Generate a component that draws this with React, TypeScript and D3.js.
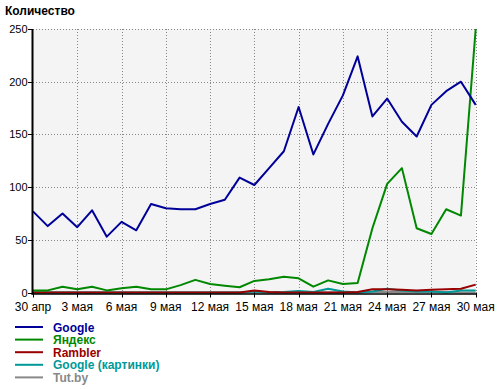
import React from "react";
import * as d3 from "d3";

const dayCount = 31;
const tickLabels = ["30 апр", "3 мая", "6 мая", "9 мая", "12 мая", "15 мая", "18 мая", "21 мая", "24 мая", "27 мая", "30 мая"];
const yTicks = [0, 50, 100, 150, 200, 250];

const google = [77, 63, 75, 62, 78, 53, 67, 59, 84, 80, 79, 79, 84, 88, 109, 102, 118, 134, 176, 131, 160, 187, 224, 167, 184, 162, 148, 178, 191, 200, 178];
const yandex = [2, 2, 5.5, 3, 5.5, 2, 4, 5.5, 3, 3, 7, 12, 8, 6.5, 5, 11, 12.5, 15, 13.5, 5.5, 11.5, 8, 9, 61, 103, 118, 61, 55.5, 79, 73, 250];
const rambler = [0, 0, 0, 0, 0, 0, 0, 0, 0, 0, 0, 0, 0, 0, 0, 2, 0.5, 0, 0, 0, 0, 0, 0.5, 3, 3, 2.5, 2, 2.5, 3, 3.5, 7.5];
const googleImages = [0, 0, 0, 0, 0, 0, 0, 0, 0, 0, 0, 0, 0, 0, 0, 1, 0, 0.5, 1.5, 0.5, 3.5, 1, 0, 1, 3.5, 2, 1, 1, 0, 2, 2];
const tutby = [0, 0, 0, 0, 0, 0, 0, 0, 0, 0, 0, 0, 0, 0, 0, 0, 0, 0, 0, 0, 0, 0, 0, 0.5, 0.5, 0.5, 0.5, 0.5, 0.5, 0, 0];

const seriesNames = ["Google", "Яндекс", "Rambler", "Google (картинки)", "Tut.by"];
const seriesColors = ["#000099", "#008800", "#990000", "#009999", "#888888"];
const seriesData = [google, yandex, rambler, googleImages, tutby];

export default function App() {
  const left = 33, right = 475.7, top = 29, bottom = 292.5;
  const x = d3.scaleLinear().domain([0, dayCount - 1]).range([left, right]);
  const y = d3.scaleLinear().domain([0, 250]).range([bottom, top]);
  const line = d3.line<number>().x((_, i) => x(i)).y((d) => y(d));
  const font = "'Liberation Sans', Arial, sans-serif";
  const drawOrder = [4, 3, 2, 1, 0];
  return (
    <div style={{ position: "absolute", left: 0, top: 0 }}>
      <svg width={500} height={389} style={{ display: "block", background: "#fff" }}>
        <text x={5} y={15} fontFamily={font} fontWeight="bold" fontSize={12} fill="#000">Количество</text>
        <rect x={left} y={top} width={right - left} height={bottom - top} fill="#f4f4f4" />
        {yTicks.filter((t) => t > 0).map((t) => (
          <line key={"gy" + t} x1={left} x2={right} y1={Math.round(y(t)) + 0.5} y2={Math.round(y(t)) + 0.5} stroke="#888" strokeDasharray="1,2" />
        ))}
        {tickLabels.map((lab, k) => (
          k > 0 ? <line key={"gx" + k} x1={Math.round(x(k * 3)) + 0.5} x2={Math.round(x(k * 3)) + 0.5} y1={top} y2={bottom} stroke="#888" strokeDasharray="1,2" /> : null
        ))}
        {drawOrder.map((si) => (
          <path key={"s" + si} d={line(seriesData[si]) || ""} fill="none" stroke={seriesColors[si]} strokeWidth={2} strokeLinejoin="round" />
        ))}
        <line x1={left - 0.5} x2={left - 0.5} y1={top} y2={bottom + 2} stroke="#000" strokeWidth={2} />
        <line x1={left - 1.5} x2={right + 1} y1={bottom + 1.5} y2={bottom + 1.5} stroke="#000" strokeWidth={1.5} />
        {yTicks.map((t) => (
          <g key={"yt" + t}>
            <line x1={left - 5} x2={left} y1={Math.round(y(t)) + 0.5} y2={Math.round(y(t)) + 0.5} stroke="#000" />
            <text x={27.5} y={y(t) + 4} textAnchor="end" fontFamily={font} fontSize={11} fill="#000">{t}</text>
          </g>
        ))}
        {tickLabels.map((lab, k) => (
          <g key={"xt" + k}>
            <line x1={Math.round(x(k * 3)) + 0.5} x2={Math.round(x(k * 3)) + 0.5} y1={bottom} y2={bottom + 5} stroke="#000" />
            <text x={x(k * 3)} y={311} textAnchor="middle" fontFamily={font} fontSize={12} fill="#000">{lab}</text>
          </g>
        ))}
        {seriesNames.map((name, i) => (
          <g key={"lg" + i}>
            <line x1={15} x2={43} y1={327 + i * 12.6} y2={327 + i * 12.6} stroke={seriesColors[i]} strokeWidth={2} />
            <text x={53} y={331.5 + i * 12.6} fontFamily={font} fontWeight="bold" fontSize={12} fill={seriesColors[i]}>{name}</text>
          </g>
        ))}
      </svg>
    </div>
  );
}
